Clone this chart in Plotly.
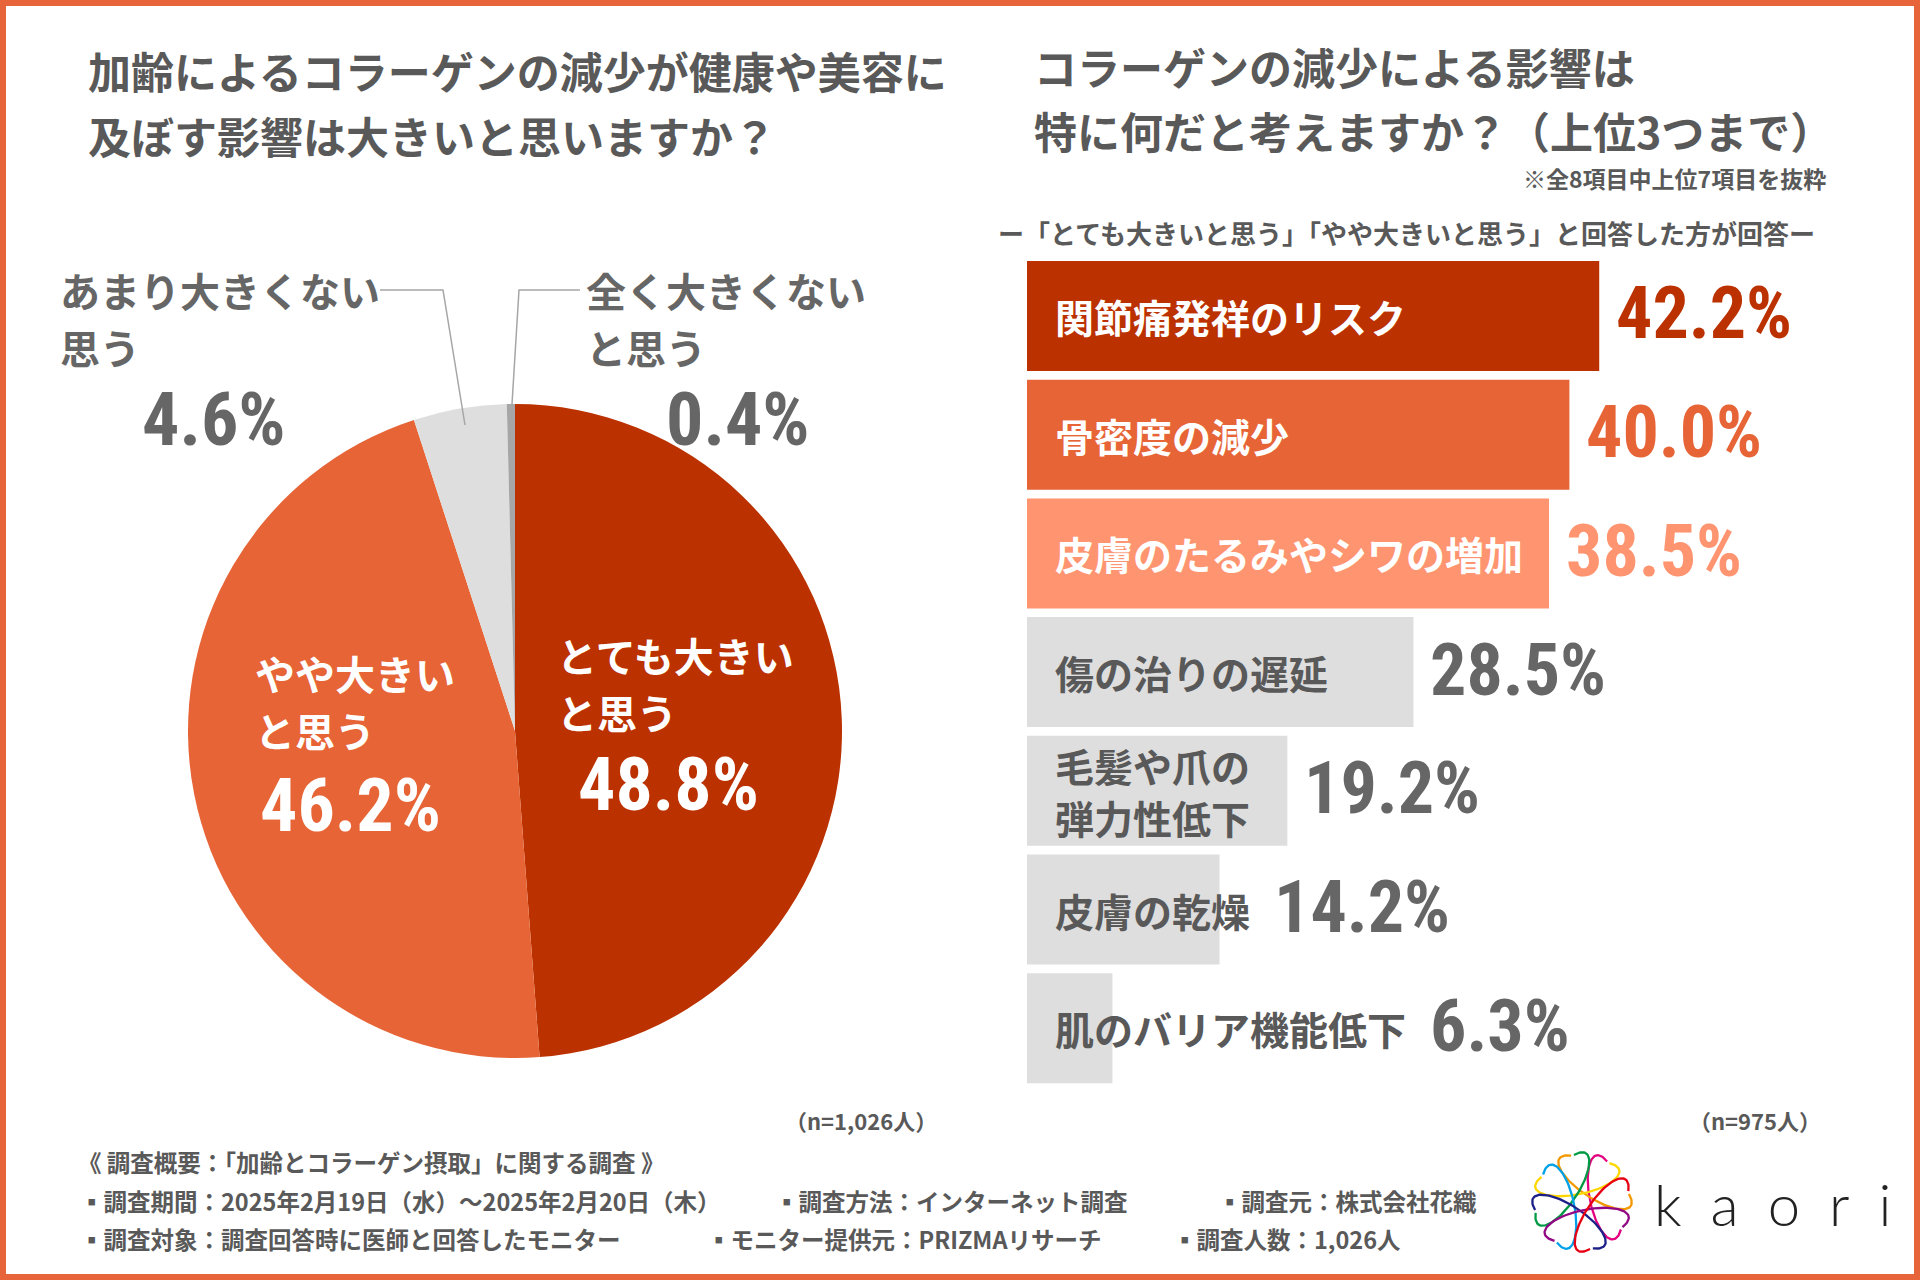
import numpy as np
import plotly.graph_objects as go

W, H = 1920, 1280

# ---------------- data ----------------
pie_labels = ["とても大きい<br>と思う", "やや大きい<br>と思う", "あまり大きくない<br>思う", "全く大きくない<br>と思う"]
pie_values = [48.8, 46.2, 4.6, 0.4]
pie_colors = ["#BB3100", "#E66436", "#DEDEDE", "#A6A6A6"]

bar_categories = ["関節痛発祥のリスク", "骨密度の減少", "皮膚のたるみやシワの増加", "傷の治りの遅延",
                  "毛髪や爪の<br>弾力性低下", "皮膚の乾燥", "肌のバリア機能低下"]
bar_values = [42.2, 40.0, 38.5, 28.5, 19.2, 14.2, 6.3]
bar_colors = ["#BB3100", "#E66436", "#FF9470", "#DEDEDE", "#DEDEDE", "#DEDEDE", "#DEDEDE"]
bar_text_colors = ["white", "white", "white", "#595959", "#595959", "#595959", "#595959"]
bar_value_colors = ["#BB3100", "#E66436", "#FF9470", "#666666", "#666666", "#666666", "#666666"]

GRAY = "#595959"
JP = "Noto Sans CJK JP"
NUM = "Roboto Condensed, Liberation Sans Narrow, DejaVu Sans Condensed, Roboto"


def px(x):
    return x / W


def py(y):
    return 1 - y / H


fig = go.Figure()

# ---------------- pie ----------------
cx, cy, r = 515, 731, 327
fig.add_trace(go.Pie(
    labels=pie_labels, values=pie_values, sort=False, direction="clockwise", rotation=0,
    marker=dict(colors=pie_colors, line=dict(width=0)),
    textinfo="none", hoverinfo="skip", showlegend=False,
    domain=dict(x=[px(cx - r), px(cx + r)], y=[py(cy + r), py(cy - r)]),
))

# ---------------- bars ----------------
bar_left = 1027
ppu = 13.56
xmax = 60
fig.add_trace(go.Bar(
    y=bar_categories, x=bar_values, orientation="h",
    marker=dict(color=bar_colors, line=dict(width=0)),
    hoverinfo="skip", showlegend=False, xaxis="x", yaxis="y",
))
pitch = 118.7
ytop = 261 - 4.35
ybot = ytop + pitch * len(bar_categories)

fig.update_layout(
    xaxis=dict(domain=[px(bar_left), px(bar_left + ppu * xmax)], range=[0, xmax], visible=False, fixedrange=True),
    yaxis=dict(domain=[py(ybot), py(ytop)], type="category", autorange="reversed", visible=False,
               fixedrange=True),
    bargap=0.073,
)

LBL = 39
ann = []
for cat, val, tc, vc in zip(bar_categories, bar_values, bar_text_colors, bar_value_colors):
    lines = cat.split("<br>")
    n = len(lines)
    for i, ln in enumerate(lines):
        ann.append(dict(xref="x", yref="y", x=0, y=cat, text=ln, showarrow=False, xanchor="left",
                        yanchor="middle", xshift=26, yshift=(n - 1) * 26 - i * 52,
                        font=dict(family=JP, size=LBL, color=tc, weight=700)))
    # place value after the bar, or after the label when the label runs past the bar
    label_end = 26 + max(len(s) for s in lines) * LBL
    bar_px = val * ppu
    shift = max(15, label_end - bar_px + 24)
    ann.append(dict(xref="x", yref="y", x=val, y=cat, text=f"{val:.1f}%", showarrow=False,
                    xanchor="left", yanchor="middle", xshift=shift, yshift=2,
                    font=dict(family=NUM, size=72, color=vc, weight=700)))

# ---------------- pie labels ----------------
pie_label_pos = [  # (left x, first line y, pct center x, pct y, color)
    (555, 655, 668, 784, "white"),
    (253, 673, 350, 805, "white"),
    (58, 290, 214, 419, "#666666"),
    (584, 290, 738, 419, "#666666"),
]
for lab, val, pos in zip(pie_labels, pie_values, pie_label_pos):
    lx, ly, pcx, pcy, col = pos
    for i, ln in enumerate(lab.split("<br>")):
        ann.append(dict(xref="paper", yref="paper", x=px(lx), y=py(ly + i * 57), text=ln, showarrow=False,
                        xanchor="left", yanchor="middle",
                        font=dict(family=JP, size=40, color=col, weight=700)))
    ann.append(dict(xref="paper", yref="paper", x=px(pcx), y=py(pcy), text=f"{val:.1f}%", showarrow=False,
                    xanchor="center", yanchor="middle",
                    font=dict(family=NUM, size=74, color=col, weight=700)))

# ---------------- titles ----------------
def txt(x, y, t, size, color=GRAY, xanchor="left", weight=700, family=JP):
    ann.append(dict(xref="paper", yref="paper", x=px(x), y=py(y), text=t, showarrow=False,
                    xanchor=xanchor, yanchor="middle",
                    font=dict(family=family, size=size, color=color, weight=weight)))


txt(86, 70, "加齢によるコラーゲンの減少が健康や美容に", 43)
txt(86, 135, "及ぼす影響は大きいと思いますか？", 43)
txt(1032, 66, "コラーゲンの減少による影響は", 43)
txt(1032, 130, "特に何だと考えますか？（上位3つまで）", 43)
txt(1828, 178, "※全8項目中上位7項目を抜粋", 23, xanchor="right")
txt(1406, 233, "ー「とても大きいと思う」「やや大きいと思う」と回答した方が回答ー", 26, xanchor="center")

txt(861, 1120, "（n=1,026人）", 22, xanchor="center")
txt(1755, 1120, "（n=975人）", 22, xanchor="center")
txt(76, 1162, "《 調査概要：「加齢とコラーゲン摂取」に関する調査 》", 23.5)
txt(78, 1201, "▪調査期間：2025年2月19日（水）～2025年2月20日（木）", 23.5)
txt(773, 1201, "▪調査方法：インターネット調査", 23.5)
txt(1216, 1201, "▪調査元：株式会社花織", 23.5)
txt(78, 1239, "▪調査対象：調査回答時に医師と回答したモニター", 23.5)
txt(705, 1239, "▪モニター提供元：PRIZMAリサーチ", 23.5)
txt(1171, 1239, "▪調査人数：1,026人", 23.5)

# kaori wordmark
txt(1652, 1203, "k\u2002a\u2002o\u2002r\u2002i", 58, color="#222222", weight=300, family="Lato, Roboto")

# ---------------- shapes ----------------
shapes = []
lc = "#A6A6A6"
for pts in [[(380, 290), (443, 290), (465, 425)], [(580, 290), (519, 290), (512, 404)]]:
    path = "M " + " L ".join(f"{px(a)},{py(b)}" for a, b in pts)
    shapes.append(dict(type="path", xref="paper", yref="paper", path=path,
                       line=dict(color=lc, width=1.5)))
# frame
shapes.append(dict(type="rect", xref="paper", yref="paper", x0=0, y0=0, x1=1, y1=1,
                   line=dict(color="#E8643A", width=12), fillcolor="rgba(0,0,0,0)"))

# ---------------- logo (decorative) ----------------
lcx, lcy, lr = 1582, 1202, 60
logo_colors = ["#E4007F", "#F39800", "#FFD700", "#009944", "#00A0E9", "#1D2088", "#920783", "#E60012"]
t = np.linspace(0.3 * np.pi, 1.7 * np.pi, 80)
for k, col in enumerate(logo_colors):
    th = k * np.pi / 4 + 0.2
    a, b, off = 1.0, 0.36, 0.55
    ex = off + b * np.cos(t)
    ey = a * np.sin(t)
    xr = ex * np.cos(th) - ey * np.sin(th)
    yr = ex * np.sin(th) + ey * np.cos(th)
    fig.add_trace(go.Scatter(x=xr, y=yr, mode="lines", line=dict(color=col, width=2.3),
                             xaxis="x3", yaxis="y3", hoverinfo="skip", showlegend=False))

fig.update_layout(
    xaxis3=dict(domain=[px(lcx - lr), px(lcx + lr)], range=[-1.4, 1.4], visible=False, fixedrange=True,
                anchor="y3"),
    yaxis3=dict(domain=[py(lcy + lr), py(lcy - lr)], range=[-1.4, 1.4], visible=False, fixedrange=True,
                anchor="x3"),
)

fig.update_layout(
    width=W, height=H, margin=dict(l=0, r=0, t=0, b=0),
    paper_bgcolor="white", plot_bgcolor="rgba(0,0,0,0)",
    annotations=ann, shapes=shapes, showlegend=False,
)

fig.write_html("out.html", config={"displayModeBar": False},
               post_script="document.body.style.margin='0';document.body.style.overflow='hidden';")
